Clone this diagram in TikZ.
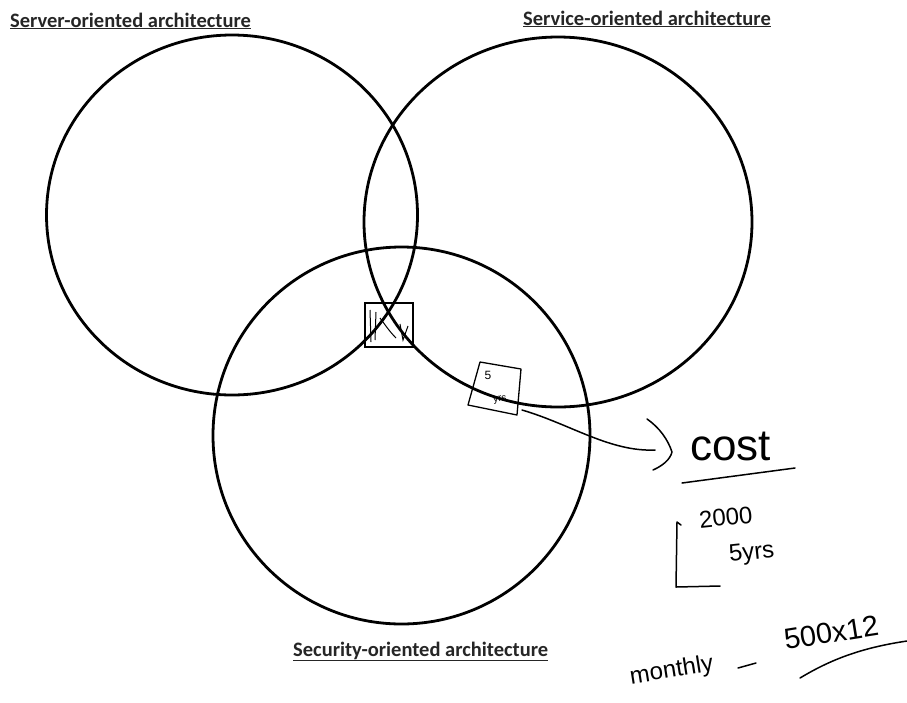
\documentclass[tikz,border=0pt]{standalone}
\usepackage{fontspec}
\usetikzlibrary{shapes.geometric}
\setmainfont{Carlito}
\newfontfamily\handfont{Liberation Sans}
\begin{document}
\begin{tikzpicture}[x=1pt,y=-1pt,
  ring/.style={ellipse,draw,line width=2.8pt,inner sep=0pt},
  title/.style={font=\fontsize{20.5}{24}\selectfont\bfseries,text=black!85,inner sep=0pt,anchor=base west},
  ink/.style={line width=1.5pt,line cap=round,line join=round},
  scrawl/.style={font=\handfont,inner sep=0pt},
  memo/.style={draw,line width=1.3pt,minimum width=48pt,minimum height=44pt,inner sep=0pt}]
\useasboundingbox (0,0) rectangle (907,702);

% the three architecture circles
\node[ring,minimum width=371pt,minimum height=360pt] (server)   at (232,215) {};
\node[ring,minimum width=388pt,minimum height=370pt] (service)  at (558,222) {};
\node[ring,minimum width=377pt,minimum height=377pt] (security) at (401.5,435.5) {};

% titles
\node[title] (tserver)   at (10,27)  {\underline{Server-oriented architecture}};
\node[title] (tservice)  at (523,25) {\underline{Service-oriented architecture}};
\node[title] (tsecurity) at (293,656) {\underline{Security-oriented architecture}};

% marked regions
\node[memo] (core) at (389,325) {};
\draw[line width=1pt] (370,310) -- (371,342) (376,312) -- (375,340)
  (380,318) .. controls (386,326) and (390,332) .. (396,338)
  (400,324) -- (403,340) -- (408,326);
\coordinate (m1) at (480,362);
\coordinate (m2) at (521,369);
\coordinate (m3) at (517,415);
\coordinate (m4) at (468,405);
\draw[line width=1.3pt,line join=round] (m1) -- (m2) -- (m3) -- (m4) -- cycle;
\node[scrawl,font=\handfont\fontsize{12}{12}\selectfont] (m5) at (488,375) {5};
\node[scrawl,font=\handfont\fontsize{10}{11}\selectfont,rotate=8] (myrs) at (500,400) {yrs};

% cost annotation
\coordinate (memoexit) at (522,410);
\coordinate (brace) at (655,450);
\draw[ink] (memoexit) .. controls (570,424) and (610,452) .. (brace);
\draw[ink] (647,419) .. controls (660,428) and (668,440) .. (672,452)
  .. controls (670,460) and (662,466) .. (653,470);
\node[scrawl,font=\handfont\fontsize{44}{44}\selectfont,anchor=base west] (cost) at (690,460) {cost};
\draw[ink] (682,483) -- (795,468);

\draw[ink] (681,525) -- (677,522) -- (676,587) -- (720,586);
\node[scrawl,font=\handfont\fontsize{24}{26}\selectfont,anchor=west,rotate=6] (n2000) at (699,520) {2000};
\node[scrawl,font=\handfont\fontsize{24}{26}\selectfont,anchor=west,rotate=6] (n5yrs) at (729,556) {5yrs};

\node[scrawl,font=\handfont\fontsize{24}{26}\selectfont,anchor=west,rotate=9] (monthly) at (630,678) {monthly};
\draw[ink] (738,668) -- (756,663);
\node[scrawl,font=\handfont\fontsize{29}{30}\selectfont,anchor=west,rotate=9] (rate) at (784,640) {500x12};
\draw[ink] (800,678) .. controls (830,660) and (860,648) .. (907,641);
\end{tikzpicture}
\end{document}
